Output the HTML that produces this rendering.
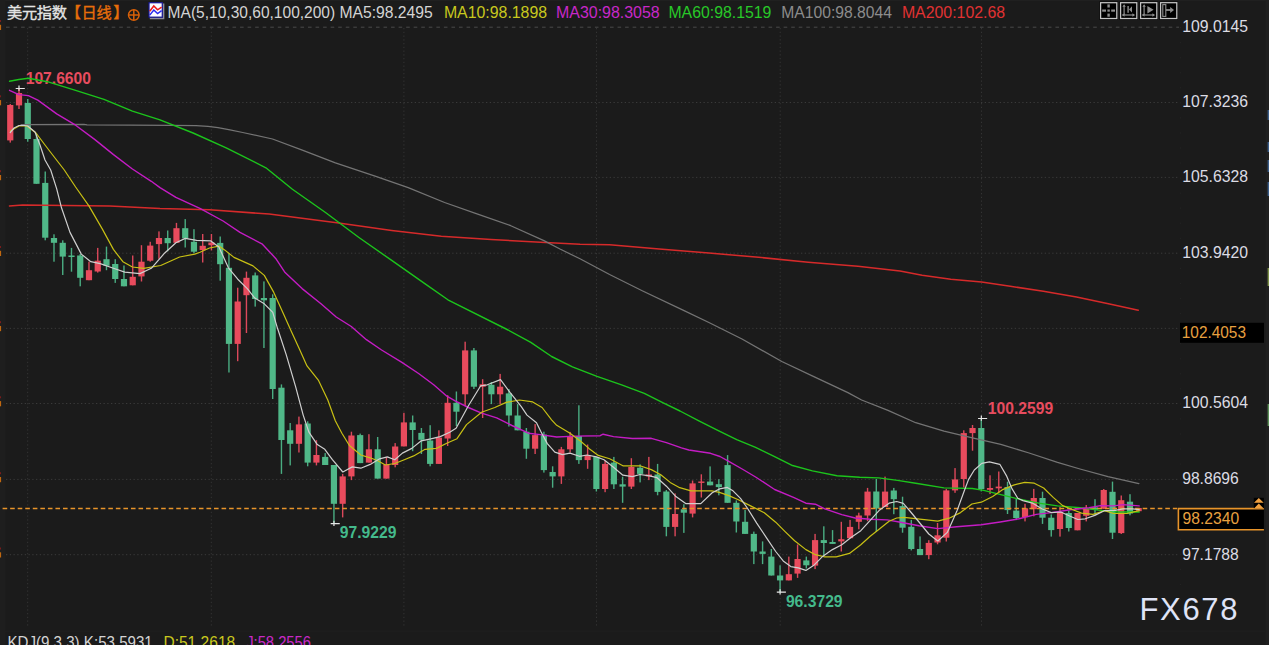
<!DOCTYPE html>
<html><head><meta charset="utf-8"><title>USD Index</title>
<style>html,body{margin:0;padding:0;background:#1b1b1b;}body{width:1269px;height:645px;overflow:hidden;font-family:"Liberation Sans",sans-serif;}svg{display:block;}text{font-family:"Liberation Sans",sans-serif;}text.cjk{font-family:"Liberation Sans","Noto Sans CJK SC",sans-serif;}</style>
</head><body>
<svg width="1269" height="645" viewBox="0 0 1269 645">
<rect x="0" y="0" width="1269" height="645" fill="#1b1b1b"/>
<rect x="0" y="0" width="1269" height="1" fill="#202020"/>
<rect x="0" y="0" width="5.5" height="645" fill="#1e1e1e"/>
<rect x="1265.5" y="0" width="3.5" height="645" fill="#1f1f1f"/>
<rect x="0" y="630.6" width="1265" height="1" fill="#202020"/>
<g stroke="#3a3a3a" stroke-width="1" fill="none">
<path d="M6 27.2 H1179" stroke="#4a4a4a" stroke-dasharray="3.6 3.95"/>
<path d="M6 102.5 H1178" stroke-dasharray="1.3 2.45"/>
<path d="M6 177.4 H1178" stroke-dasharray="1.3 2.45"/>
<path d="M6 253.2 H1178" stroke-dasharray="1.3 2.45"/>
<path d="M6 328.35 H1178" stroke-dasharray="1.3 2.45"/>
<path d="M6 403.5 H1178" stroke-dasharray="1.3 2.45"/>
<path d="M6 479.4 H1178" stroke-dasharray="1.3 2.45"/>
<path d="M6 554.7 H1178" stroke-dasharray="1.3 2.45"/>
<path d="M27.7 28 V628" stroke="#343434" stroke-dasharray="1.3 2.45"/>
<path d="M211.3 28 V628" stroke="#343434" stroke-dasharray="1.3 2.45"/>
<path d="M403.9 28 V628" stroke="#343434" stroke-dasharray="1.3 2.45"/>
<path d="M596.5 28 V628" stroke="#343434" stroke-dasharray="1.3 2.45"/>
<path d="M780.2 28 V628" stroke="#343434" stroke-dasharray="1.3 2.45"/>
<path d="M981.5 28 V628" stroke="#343434" stroke-dasharray="1.3 2.45"/>
<path d="M1180.5 27 V628" stroke="#232323" stroke-dasharray="1.2 13.85"/>
</g>
<rect x="0" y="24.8" width="1.1" height="5.2" fill="#c06810"/>
<rect x="0" y="20" width="1" height="2" fill="#7a1c1c"/>
<rect x="0" y="100.1" width="1.1" height="5.2" fill="#c06810"/>
<rect x="0" y="95.3" width="1" height="2" fill="#7a1c1c"/>
<rect x="0" y="175" width="1.1" height="5.2" fill="#c06810"/>
<rect x="0" y="170.2" width="1" height="2" fill="#7a1c1c"/>
<rect x="0" y="250.8" width="1.1" height="5.2" fill="#c06810"/>
<rect x="0" y="246" width="1" height="2" fill="#7a1c1c"/>
<rect x="0" y="325.95" width="1.1" height="5.2" fill="#c06810"/>
<rect x="0" y="321.15" width="1" height="2" fill="#7a1c1c"/>
<rect x="0" y="401.1" width="1.1" height="5.2" fill="#c06810"/>
<rect x="0" y="396.3" width="1" height="2" fill="#7a1c1c"/>
<rect x="0" y="477" width="1.1" height="5.2" fill="#c06810"/>
<rect x="0" y="472.2" width="1" height="2" fill="#7a1c1c"/>
<rect x="0" y="552.3" width="1.1" height="5.2" fill="#c06810"/>
<rect x="0" y="547.5" width="1" height="2" fill="#7a1c1c"/>
<g>
<rect x="9.55" y="104" width="1.4" height="38.6" fill="#dc485b"/>
<rect x="7.15" y="105" width="6.2" height="35.4" fill="#e84b5d"/>
<rect x="18.3" y="89" width="1.4" height="20" fill="#dc485b"/>
<rect x="15.9" y="93" width="6.2" height="12.4" fill="#e84b5d"/>
<rect x="27.05" y="99" width="1.4" height="42.7" fill="#4aad82"/>
<rect x="24.65" y="103" width="6.2" height="36" fill="#50b888"/>
<rect x="35.79" y="133.7" width="1.4" height="50.1" fill="#4aad82"/>
<rect x="33.39" y="139" width="6.2" height="44.8" fill="#50b888"/>
<rect x="44.54" y="171.5" width="1.4" height="68.8" fill="#4aad82"/>
<rect x="42.14" y="182.9" width="6.2" height="54.8" fill="#50b888"/>
<rect x="53.29" y="234.3" width="1.4" height="27.4" fill="#4aad82"/>
<rect x="50.89" y="238" width="6.2" height="4.8" fill="#50b888"/>
<rect x="62.04" y="240.3" width="1.4" height="34.7" fill="#4aad82"/>
<rect x="59.64" y="242.8" width="6.2" height="13.8" fill="#50b888"/>
<rect x="70.79" y="247.9" width="1.4" height="23.8" fill="#4aad82"/>
<rect x="68.39" y="255.5" width="6.2" height="1.5" fill="#50b888"/>
<rect x="79.53" y="254" width="1.4" height="32.3" fill="#4aad82"/>
<rect x="77.13" y="255.5" width="6.2" height="22.3" fill="#50b888"/>
<rect x="88.28" y="261.7" width="1.4" height="18.5" fill="#dc485b"/>
<rect x="85.88" y="270.2" width="6.2" height="10" fill="#e84b5d"/>
<rect x="97.03" y="247.9" width="1.4" height="24.7" fill="#dc485b"/>
<rect x="94.63" y="260.7" width="6.2" height="10.8" fill="#e84b5d"/>
<rect x="105.78" y="246.6" width="1.4" height="23.6" fill="#4aad82"/>
<rect x="103.38" y="259.2" width="6.2" height="6.6" fill="#50b888"/>
<rect x="114.53" y="259.2" width="1.4" height="23.7" fill="#4aad82"/>
<rect x="112.13" y="264" width="6.2" height="15" fill="#50b888"/>
<rect x="123.27" y="265.5" width="1.4" height="20.8" fill="#4aad82"/>
<rect x="120.87" y="279" width="6.2" height="7.3" fill="#50b888"/>
<rect x="132.02" y="255.5" width="1.4" height="29.8" fill="#dc485b"/>
<rect x="129.62" y="276.8" width="6.2" height="8.5" fill="#e84b5d"/>
<rect x="140.77" y="245.2" width="1.4" height="36.3" fill="#dc485b"/>
<rect x="138.37" y="261.7" width="6.2" height="14.7" fill="#e84b5d"/>
<rect x="149.52" y="241.8" width="1.4" height="19.9" fill="#dc485b"/>
<rect x="147.12" y="245.6" width="6.2" height="15.1" fill="#e84b5d"/>
<rect x="158.27" y="231.4" width="1.4" height="27.4" fill="#dc485b"/>
<rect x="155.87" y="238" width="6.2" height="6.1" fill="#e84b5d"/>
<rect x="167.01" y="230.5" width="1.4" height="20.8" fill="#4aad82"/>
<rect x="164.61" y="238" width="6.2" height="5.2" fill="#50b888"/>
<rect x="175.76" y="222.9" width="1.4" height="19.9" fill="#dc485b"/>
<rect x="173.36" y="228.2" width="6.2" height="14.6" fill="#e84b5d"/>
<rect x="184.51" y="219.1" width="1.4" height="28.4" fill="#4aad82"/>
<rect x="182.11" y="228.2" width="6.2" height="10.2" fill="#50b888"/>
<rect x="193.26" y="229.2" width="1.4" height="24" fill="#4aad82"/>
<rect x="190.86" y="241.8" width="6.2" height="9.9" fill="#50b888"/>
<rect x="202.01" y="234" width="1.4" height="28.5" fill="#dc485b"/>
<rect x="199.61" y="245.8" width="6.2" height="4.3" fill="#e84b5d"/>
<rect x="210.75" y="234" width="1.4" height="16.4" fill="#dc485b"/>
<rect x="208.35" y="242.5" width="6.2" height="2.7" fill="#e84b5d"/>
<rect x="219.5" y="236.5" width="1.4" height="44.2" fill="#4aad82"/>
<rect x="217.1" y="242.9" width="6.2" height="21.3" fill="#50b888"/>
<rect x="228.25" y="253.4" width="1.4" height="119.1" fill="#4aad82"/>
<rect x="225.85" y="267.8" width="6.2" height="76.1" fill="#50b888"/>
<rect x="237" y="287.7" width="1.4" height="73.5" fill="#dc485b"/>
<rect x="234.6" y="301.5" width="6.2" height="42.4" fill="#e84b5d"/>
<rect x="245.75" y="271.6" width="1.4" height="61.4" fill="#dc485b"/>
<rect x="243.35" y="277.8" width="6.2" height="17.4" fill="#e84b5d"/>
<rect x="254.49" y="272.5" width="1.4" height="34.1" fill="#4aad82"/>
<rect x="252.09" y="275.4" width="6.2" height="23.6" fill="#50b888"/>
<rect x="263.24" y="281.4" width="1.4" height="66.6" fill="#4aad82"/>
<rect x="260.84" y="298" width="6.2" height="2.3" fill="#50b888"/>
<rect x="271.99" y="294.3" width="1.4" height="104.7" fill="#4aad82"/>
<rect x="269.59" y="298" width="6.2" height="91" fill="#50b888"/>
<rect x="280.74" y="384.4" width="1.4" height="89.5" fill="#4aad82"/>
<rect x="278.34" y="387.7" width="6.2" height="52.3" fill="#50b888"/>
<rect x="289.49" y="423" width="1.4" height="42.4" fill="#4aad82"/>
<rect x="287.09" y="430.3" width="6.2" height="13.5" fill="#50b888"/>
<rect x="298.23" y="416.6" width="1.4" height="35.9" fill="#dc485b"/>
<rect x="295.83" y="424.4" width="6.2" height="19.4" fill="#e84b5d"/>
<rect x="306.98" y="421.3" width="1.4" height="45" fill="#4aad82"/>
<rect x="304.58" y="423.5" width="6.2" height="39.1" fill="#50b888"/>
<rect x="315.73" y="440.2" width="1.4" height="25.2" fill="#dc485b"/>
<rect x="313.33" y="455" width="6.2" height="7.6" fill="#e84b5d"/>
<rect x="324.48" y="453.1" width="1.4" height="11.9" fill="#4aad82"/>
<rect x="322.08" y="456.9" width="6.2" height="8.1" fill="#50b888"/>
<rect x="333.23" y="465" width="1.4" height="58.1" fill="#4aad82"/>
<rect x="330.83" y="465" width="6.2" height="38.8" fill="#50b888"/>
<rect x="341.97" y="473.9" width="1.4" height="43.5" fill="#dc485b"/>
<rect x="339.57" y="476.4" width="6.2" height="27.4" fill="#e84b5d"/>
<rect x="350.72" y="431.7" width="1.4" height="48.4" fill="#dc485b"/>
<rect x="348.32" y="435.5" width="6.2" height="40.9" fill="#e84b5d"/>
<rect x="359.47" y="433.6" width="1.4" height="29.5" fill="#4aad82"/>
<rect x="357.07" y="435.1" width="6.2" height="28" fill="#50b888"/>
<rect x="368.22" y="434.2" width="1.4" height="28.4" fill="#dc485b"/>
<rect x="365.82" y="449.3" width="6.2" height="13.3" fill="#e84b5d"/>
<rect x="376.97" y="437" width="1.4" height="41.6" fill="#4aad82"/>
<rect x="374.57" y="449.3" width="6.2" height="29.3" fill="#50b888"/>
<rect x="385.71" y="456.9" width="1.4" height="21.7" fill="#dc485b"/>
<rect x="383.31" y="464.4" width="6.2" height="14.2" fill="#e84b5d"/>
<rect x="394.46" y="443.1" width="1.4" height="24.2" fill="#dc485b"/>
<rect x="392.06" y="446.5" width="6.2" height="18.5" fill="#e84b5d"/>
<rect x="403.21" y="412.8" width="1.4" height="33.6" fill="#dc485b"/>
<rect x="400.81" y="422.4" width="6.2" height="24" fill="#e84b5d"/>
<rect x="411.96" y="415.5" width="1.4" height="35.7" fill="#4aad82"/>
<rect x="409.56" y="422.4" width="6.2" height="7.6" fill="#50b888"/>
<rect x="420.71" y="428" width="1.4" height="26" fill="#4aad82"/>
<rect x="418.31" y="432.9" width="6.2" height="6.9" fill="#50b888"/>
<rect x="429.45" y="425.2" width="1.4" height="41.1" fill="#4aad82"/>
<rect x="427.05" y="440.5" width="6.2" height="23.4" fill="#50b888"/>
<rect x="438.2" y="430.3" width="1.4" height="33.6" fill="#dc485b"/>
<rect x="435.8" y="437.6" width="6.2" height="26.3" fill="#e84b5d"/>
<rect x="446.95" y="395.2" width="1.4" height="50.8" fill="#dc485b"/>
<rect x="444.55" y="402.8" width="6.2" height="35.7" fill="#e84b5d"/>
<rect x="455.7" y="391.5" width="1.4" height="34.5" fill="#4aad82"/>
<rect x="453.3" y="402.8" width="6.2" height="8.9" fill="#50b888"/>
<rect x="464.45" y="341.7" width="1.4" height="64" fill="#dc485b"/>
<rect x="462.05" y="350.4" width="6.2" height="43.9" fill="#e84b5d"/>
<rect x="473.19" y="348" width="1.4" height="41" fill="#4aad82"/>
<rect x="470.79" y="350.4" width="6.2" height="36.3" fill="#50b888"/>
<rect x="481.94" y="379.2" width="1.4" height="38.8" fill="#dc485b"/>
<rect x="479.54" y="384.3" width="6.2" height="2.4" fill="#e84b5d"/>
<rect x="490.69" y="382" width="1.4" height="22.1" fill="#4aad82"/>
<rect x="488.29" y="384.8" width="6.2" height="9.5" fill="#50b888"/>
<rect x="499.44" y="373.9" width="1.4" height="30.2" fill="#dc485b"/>
<rect x="497.04" y="386.7" width="6.2" height="7.6" fill="#e84b5d"/>
<rect x="508.19" y="389" width="1.4" height="37.5" fill="#4aad82"/>
<rect x="505.79" y="393.4" width="6.2" height="22.1" fill="#50b888"/>
<rect x="516.93" y="404.1" width="1.4" height="26.2" fill="#4aad82"/>
<rect x="514.53" y="415.5" width="6.2" height="14.8" fill="#50b888"/>
<rect x="525.68" y="428" width="1.4" height="30.8" fill="#4aad82"/>
<rect x="523.28" y="431.7" width="6.2" height="17" fill="#50b888"/>
<rect x="534.43" y="424.1" width="1.4" height="29.9" fill="#dc485b"/>
<rect x="532.03" y="435.1" width="6.2" height="13.6" fill="#e84b5d"/>
<rect x="543.18" y="431.7" width="1.4" height="40.9" fill="#4aad82"/>
<rect x="540.78" y="434.6" width="6.2" height="35.5" fill="#50b888"/>
<rect x="551.93" y="466.3" width="1.4" height="21.4" fill="#4aad82"/>
<rect x="549.53" y="472" width="6.2" height="4.4" fill="#50b888"/>
<rect x="560.67" y="446.9" width="1.4" height="37" fill="#dc485b"/>
<rect x="558.27" y="449.3" width="6.2" height="27.1" fill="#e84b5d"/>
<rect x="569.42" y="431.9" width="1.4" height="20.6" fill="#dc485b"/>
<rect x="567.02" y="436" width="6.2" height="13.3" fill="#e84b5d"/>
<rect x="578.17" y="405.3" width="1.4" height="58.6" fill="#4aad82"/>
<rect x="575.77" y="436" width="6.2" height="24.1" fill="#50b888"/>
<rect x="586.92" y="444.5" width="1.4" height="24.3" fill="#dc485b"/>
<rect x="584.52" y="455" width="6.2" height="5.1" fill="#e84b5d"/>
<rect x="595.67" y="456.9" width="1.4" height="34.6" fill="#4aad82"/>
<rect x="593.27" y="456.9" width="6.2" height="32.1" fill="#50b888"/>
<rect x="604.41" y="460.7" width="1.4" height="31.5" fill="#dc485b"/>
<rect x="602.01" y="463.9" width="6.2" height="25.1" fill="#e84b5d"/>
<rect x="613.16" y="456.9" width="1.4" height="32.1" fill="#4aad82"/>
<rect x="610.76" y="462.6" width="6.2" height="21.7" fill="#50b888"/>
<rect x="621.91" y="476.7" width="1.4" height="26.1" fill="#4aad82"/>
<rect x="619.51" y="484.3" width="6.2" height="2.3" fill="#50b888"/>
<rect x="630.66" y="458.2" width="1.4" height="30.8" fill="#dc485b"/>
<rect x="628.26" y="466.9" width="6.2" height="19.7" fill="#e84b5d"/>
<rect x="639.41" y="464.4" width="1.4" height="18" fill="#4aad82"/>
<rect x="637.01" y="467.7" width="6.2" height="6.2" fill="#50b888"/>
<rect x="648.15" y="456.9" width="1.4" height="23.2" fill="#dc485b"/>
<rect x="645.75" y="474.5" width="6.2" height="1.9" fill="#e84b5d"/>
<rect x="656.9" y="463.9" width="1.4" height="31.4" fill="#4aad82"/>
<rect x="654.5" y="474.5" width="6.2" height="17.4" fill="#50b888"/>
<rect x="665.65" y="490" width="1.4" height="46.3" fill="#4aad82"/>
<rect x="663.25" y="491.5" width="6.2" height="35.4" fill="#50b888"/>
<rect x="674.4" y="493.4" width="1.4" height="42.9" fill="#dc485b"/>
<rect x="672" y="514" width="6.2" height="12.9" fill="#e84b5d"/>
<rect x="683.15" y="504.2" width="1.4" height="28.7" fill="#4aad82"/>
<rect x="680.75" y="509.3" width="6.2" height="3.4" fill="#50b888"/>
<rect x="691.89" y="480.5" width="1.4" height="36.9" fill="#dc485b"/>
<rect x="689.49" y="483.4" width="6.2" height="30.2" fill="#e84b5d"/>
<rect x="700.64" y="474.3" width="1.4" height="23.2" fill="#dc485b"/>
<rect x="698.24" y="481.5" width="6.2" height="1.4" fill="#e84b5d"/>
<rect x="709.39" y="466.4" width="1.4" height="18.9" fill="#4aad82"/>
<rect x="706.99" y="481.6" width="6.2" height="3.7" fill="#50b888"/>
<rect x="718.14" y="479.2" width="1.4" height="16.1" fill="#4aad82"/>
<rect x="715.74" y="484.2" width="6.2" height="2.9" fill="#50b888"/>
<rect x="726.89" y="455.1" width="1.4" height="47.7" fill="#4aad82"/>
<rect x="724.49" y="465.1" width="6.2" height="37.7" fill="#50b888"/>
<rect x="735.63" y="500.4" width="1.4" height="32.1" fill="#4aad82"/>
<rect x="733.23" y="502.8" width="6.2" height="18.7" fill="#50b888"/>
<rect x="744.38" y="509.9" width="1.4" height="24" fill="#4aad82"/>
<rect x="741.98" y="521.8" width="6.2" height="12.1" fill="#50b888"/>
<rect x="753.13" y="531.6" width="1.4" height="32.5" fill="#4aad82"/>
<rect x="750.73" y="533.9" width="6.2" height="17.6" fill="#50b888"/>
<rect x="761.88" y="541.4" width="1.4" height="22.7" fill="#4aad82"/>
<rect x="759.48" y="551.5" width="6.2" height="2.4" fill="#50b888"/>
<rect x="770.63" y="549" width="1.4" height="26.5" fill="#4aad82"/>
<rect x="768.23" y="556.6" width="6.2" height="18.9" fill="#50b888"/>
<rect x="779.37" y="565.3" width="1.4" height="26.8" fill="#4aad82"/>
<rect x="776.97" y="575.5" width="6.2" height="4.9" fill="#50b888"/>
<rect x="788.12" y="556.6" width="1.4" height="23.8" fill="#dc485b"/>
<rect x="785.72" y="574.2" width="6.2" height="6.2" fill="#e84b5d"/>
<rect x="796.87" y="544.5" width="1.4" height="33.4" fill="#dc485b"/>
<rect x="794.47" y="559" width="6.2" height="14.6" fill="#e84b5d"/>
<rect x="805.62" y="556.6" width="1.4" height="11.9" fill="#4aad82"/>
<rect x="803.22" y="560.4" width="6.2" height="4.9" fill="#50b888"/>
<rect x="814.37" y="533.9" width="1.4" height="35.2" fill="#dc485b"/>
<rect x="811.97" y="540.1" width="6.2" height="25.5" fill="#e84b5d"/>
<rect x="823.11" y="526.3" width="1.4" height="28.9" fill="#4aad82"/>
<rect x="820.71" y="540.1" width="6.2" height="2.9" fill="#50b888"/>
<rect x="831.86" y="530.1" width="1.4" height="13.8" fill="#4aad82"/>
<rect x="829.46" y="542" width="6.2" height="1.9" fill="#50b888"/>
<rect x="840.61" y="521.8" width="1.4" height="29.7" fill="#dc485b"/>
<rect x="838.21" y="539.2" width="6.2" height="2.2" fill="#e84b5d"/>
<rect x="849.36" y="519.9" width="1.4" height="18.3" fill="#dc485b"/>
<rect x="846.96" y="526.9" width="6.2" height="11.3" fill="#e84b5d"/>
<rect x="858.11" y="512.7" width="1.4" height="16.6" fill="#dc485b"/>
<rect x="855.71" y="515.5" width="6.2" height="6.3" fill="#e84b5d"/>
<rect x="866.85" y="487.9" width="1.4" height="33.3" fill="#dc485b"/>
<rect x="864.45" y="491.6" width="6.2" height="23.9" fill="#e84b5d"/>
<rect x="875.6" y="479" width="1.4" height="53" fill="#4aad82"/>
<rect x="873.2" y="491.5" width="6.2" height="17" fill="#50b888"/>
<rect x="884.35" y="476.6" width="1.4" height="30.4" fill="#dc485b"/>
<rect x="881.95" y="491.6" width="6.2" height="15.4" fill="#e84b5d"/>
<rect x="893.1" y="487.9" width="1.4" height="26.3" fill="#4aad82"/>
<rect x="890.7" y="490.5" width="6.2" height="8.7" fill="#50b888"/>
<rect x="901.85" y="496.7" width="1.4" height="36" fill="#4aad82"/>
<rect x="899.45" y="506.1" width="6.2" height="21.6" fill="#50b888"/>
<rect x="910.59" y="519.9" width="1.4" height="30.5" fill="#4aad82"/>
<rect x="908.19" y="526.8" width="6.2" height="22.2" fill="#50b888"/>
<rect x="919.34" y="536.4" width="1.4" height="18.7" fill="#4aad82"/>
<rect x="916.94" y="549" width="6.2" height="6.1" fill="#50b888"/>
<rect x="928.09" y="540.2" width="1.4" height="19" fill="#dc485b"/>
<rect x="925.69" y="542.9" width="6.2" height="12.2" fill="#e84b5d"/>
<rect x="936.84" y="523" width="1.4" height="21.3" fill="#dc485b"/>
<rect x="934.44" y="535.3" width="6.2" height="7.2" fill="#e84b5d"/>
<rect x="945.59" y="488.9" width="1.4" height="52.6" fill="#dc485b"/>
<rect x="943.19" y="490.4" width="6.2" height="47.3" fill="#e84b5d"/>
<rect x="954.33" y="468.1" width="1.4" height="24.7" fill="#dc485b"/>
<rect x="951.93" y="479.4" width="6.2" height="11" fill="#e84b5d"/>
<rect x="963.08" y="430.3" width="1.4" height="57.2" fill="#dc485b"/>
<rect x="960.68" y="433.1" width="6.2" height="45.9" fill="#e84b5d"/>
<rect x="971.83" y="425" width="1.4" height="25.7" fill="#dc485b"/>
<rect x="969.43" y="428" width="6.2" height="5.1" fill="#e84b5d"/>
<rect x="980.58" y="418.9" width="1.4" height="72.5" fill="#4aad82"/>
<rect x="978.18" y="428" width="6.2" height="61.1" fill="#50b888"/>
<rect x="989.33" y="475.3" width="1.4" height="18.8" fill="#dc485b"/>
<rect x="986.93" y="488" width="6.2" height="1.8" fill="#e84b5d"/>
<rect x="998.07" y="471.5" width="1.4" height="21.2" fill="#dc485b"/>
<rect x="995.67" y="486.6" width="6.2" height="1.7" fill="#e84b5d"/>
<rect x="1006.82" y="481.7" width="1.4" height="32.3" fill="#4aad82"/>
<rect x="1004.42" y="487" width="6.2" height="23.1" fill="#50b888"/>
<rect x="1015.57" y="498" width="1.4" height="22.1" fill="#4aad82"/>
<rect x="1013.17" y="510.6" width="6.2" height="7.4" fill="#50b888"/>
<rect x="1024.32" y="503.8" width="1.4" height="17.6" fill="#dc485b"/>
<rect x="1021.92" y="508.3" width="6.2" height="8.8" fill="#e84b5d"/>
<rect x="1033.07" y="488.9" width="1.4" height="27.4" fill="#dc485b"/>
<rect x="1030.67" y="498" width="6.2" height="11.2" fill="#e84b5d"/>
<rect x="1041.81" y="491.7" width="1.4" height="32.2" fill="#4aad82"/>
<rect x="1039.41" y="498" width="6.2" height="19.7" fill="#50b888"/>
<rect x="1050.56" y="514.4" width="1.4" height="22.2" fill="#4aad82"/>
<rect x="1048.16" y="517.7" width="6.2" height="12.4" fill="#50b888"/>
<rect x="1059.31" y="506.9" width="1.4" height="29.7" fill="#dc485b"/>
<rect x="1056.91" y="512" width="6.2" height="17" fill="#e84b5d"/>
<rect x="1068.06" y="510.7" width="1.4" height="20.8" fill="#4aad82"/>
<rect x="1065.66" y="513" width="6.2" height="15" fill="#50b888"/>
<rect x="1076.81" y="513" width="1.4" height="17.3" fill="#dc485b"/>
<rect x="1074.41" y="513" width="6.2" height="17.3" fill="#e84b5d"/>
<rect x="1085.55" y="505" width="1.4" height="16.4" fill="#dc485b"/>
<rect x="1083.15" y="508.5" width="6.2" height="7.3" fill="#e84b5d"/>
<rect x="1094.3" y="499.2" width="1.4" height="16" fill="#4aad82"/>
<rect x="1091.9" y="507.4" width="6.2" height="2.3" fill="#50b888"/>
<rect x="1103.05" y="489" width="1.4" height="19.8" fill="#dc485b"/>
<rect x="1100.65" y="490" width="6.2" height="18.8" fill="#e84b5d"/>
<rect x="1111.8" y="481.6" width="1.4" height="57.4" fill="#4aad82"/>
<rect x="1109.4" y="491.8" width="6.2" height="40.9" fill="#50b888"/>
<rect x="1120.55" y="495.5" width="1.4" height="38.5" fill="#dc485b"/>
<rect x="1118.15" y="500.2" width="6.2" height="32.9" fill="#e84b5d"/>
<rect x="1129.29" y="494.2" width="1.4" height="21.1" fill="#4aad82"/>
<rect x="1126.89" y="501.7" width="6.2" height="11.8" fill="#50b888"/>
<rect x="1138.04" y="508" width="1.4" height="3.2" fill="#dc485b"/>
<rect x="1136.14" y="508" width="5.6" height="3.2" fill="#e84b5d"/>
</g>
<path d="M2.6 508.4 H1177" stroke="#e8942a" stroke-width="1.5" stroke-dasharray="4.6 2.95" fill="none"/>
<text x="25.7" y="84.3" font-size="15.6" fill="#e84c5f" font-weight="bold" textLength="65.3" lengthAdjust="spacingAndGlyphs">107.6600</text>
<text x="339.7" y="537.7" font-size="15.6" fill="#44ba8c" font-weight="bold" textLength="56.7" lengthAdjust="spacingAndGlyphs">97.9229</text>
<text x="785.9" y="607" font-size="15.6" fill="#44ba8c" font-weight="bold" textLength="56.7" lengthAdjust="spacingAndGlyphs">96.3729</text>
<text x="987.8" y="414.3" font-size="15.6" fill="#e84c5f" font-weight="bold" textLength="65.3" lengthAdjust="spacingAndGlyphs">100.2599</text>
<path d="M9.5 205.9 L22.7 205 L109.7 205.9 L160 208.5 L209.6 209.8 L269.2 214.1 L338.7 223 L391.7 230.4 L441.3 236.3 L491 239.6 L540.6 242.2 L580 244.3 L609.6 244.7 L659.3 249 L708.9 253 L758.6 257.3 L808.2 262.2 L857.9 266.2 L900 270.9 L922.1 275.3 L950.8 279.3 L981.6 281.9 L1010.3 286.3 L1043.4 291.2 L1076.5 296.9 L1109.6 304 L1138.3 310.2" fill="none" stroke="#d62a2a" stroke-width="1.55" stroke-linejoin="round" stroke-linecap="round"/>
<path d="M21 124.5 L84 124.3 L87 124.8 L130 125.1 L170.2 125.3 L196 125.6 L208 126.4 L218 127.6 L230 129.8 L242.7 132.5 L272.5 139 L302.3 150.2 L335.4 162.8 L375.1 176.1 L408.2 187.6 L444.6 202.5 L477.7 214.1 L510.8 225.7 L543.9 240.6 L560 249 L580 258.8 L609.6 274.5 L642.7 291 L682.5 309.9 L708.9 322.5 L742 339 L781.8 361.5 L814.9 377.1 L847.9 392.6 L861.6 400 L888 410.4 L915.7 422.7 L944 431.2 L972.4 437.8 L1000.8 444.4 L1029.1 453 L1057.5 462.4 L1080 469 L1108 476.6 L1138.9 483.7" fill="none" stroke="#747474" stroke-width="1.25" stroke-linejoin="round" stroke-linecap="round"/>
<path d="M9.5 81.2 L18.9 79.5 L28.4 78.3 L47.3 81.7 L75.6 90.3 L104 99.3 L132.4 111.1 L160 119.8 L193.1 133 L226.2 147.9 L265.9 167.8 L292.4 189.3 L325.5 212.5 L358.6 237.3 L391.7 260.4 L424.8 283.6 L447.9 299.8 L508.1 330 L530.8 342.3 L551.6 356.5 L572.4 366.9 L597 376.3 L621.6 384.8 L644.3 393.4 L663.2 402.8 L680 411 L698.9 420.8 L717.8 430.3 L736.7 439.7 L755.6 447.3 L774.6 456.7 L791.6 465.2 L812.4 470.9 L837 475.7 L859.7 477.2 L878.6 477.9 L897.5 480.4 L915.7 483.2 L944 487.9 L972.4 488.5 L983.7 490.4 L1000.8 494.6 L1019.7 499.3 L1038.6 503.1 L1057.5 505.9 L1080 507.8 L1098.6 510.1 L1117.5 512 L1139.2 512" fill="none" stroke="#1cc41c" stroke-width="1.4" stroke-linejoin="round" stroke-linecap="round"/>
<path d="M9.5 90.3 L18.9 94.6 L28.4 95.6 L37.8 100.1 L56.7 113.9 L75.6 125.2 L94.6 139.4 L113.5 154.6 L132.4 169 L151.3 181.3 L160 187.6 L175.9 197.4 L200.4 208.7 L223.1 221 L240 232.4 L262.4 244.2 L275.7 258.4 L285.1 272.6 L302.1 288.6 L321 303.8 L336.2 317 L351.3 326.5 L366.4 339.7 L381.6 350 L401.5 362.1 L418.6 373.5 L433.7 384.8 L446.9 396.2 L455.1 400.9 L468.4 407.5 L481.6 413.2 L496.7 417.9 L511.9 425.5 L528.4 433.2 L540.2 434.6 L556.7 437 L575.6 436.1 L600.2 435.7 L603.1 434.2 L613.5 436.6 L632.4 438.5 L651.3 438.3 L666.4 442.7 L681.5 447.8 L688.8 450 L710.5 453.3 L720 456.5 L727.9 460.8 L743 469.5 L755.6 477 L774.6 489.5 L793.5 497.4 L805.9 503.2 L815.4 504.2 L824.8 508.9 L841.8 514.6 L855.1 518 L870.2 519.3 L887.2 519.9 L900.5 522.2 L918.9 525.8 L937.8 528.6 L956.7 526.7 L981.3 524.8 L1000.2 522 L1019.1 518.8 L1036.2 514.4 L1051.3 512.6 L1070.2 509.7 L1089.1 507.8 L1100.5 505.6 L1113.7 505.9 L1123.2 504.6 L1139.2 505.9" fill="none" stroke="#c41cc4" stroke-width="1.4" stroke-linejoin="round" stroke-linecap="round"/>
<path d="M10.25 131 L19 126 L27 126 L36 133 L45 145 L55 158 L64.3 170 L75.6 187 L88.9 205.9 L102.1 228.6 L113.4 249.4 L122.9 261.7 L132.4 267 L143.7 268.3 L160.7 265.5 L179.6 257 L194.8 254.1 L200 252.3 L209.5 248 L218.9 246.1 L224.6 249.9 L234 257.4 L253 265.9 L264.3 275.4 L273.8 292.4 L283.2 313.2 L290.8 330.2 L299.4 348.9 L307 365.9 L318.3 380.1 L327.8 400 L335.3 420.8 L341.9 433.2 L349.4 445.5 L360.8 455 L370.2 457.8 L377.8 460.7 L385.4 465 L394.8 463.5 L404.3 459.7 L413.7 455.9 L425.1 449.3 L436.4 448.4 L447.8 442.7 L457 438.7 L466.5 424.6 L481.6 412.3 L494.8 407.5 L506.2 402.4 L519.4 400 L532.7 401.9 L542.1 407.5 L551.6 419.8 L556.7 425.3 L570 433.2 L581.3 441.7 L588.9 448.4 L598.3 455.4 L609.7 458.8 L622.9 465.8 L640 465.8 L651.3 469.6 L660.8 474.8 L670.2 482.4 L679.7 487.7 L691 490.9 L711.8 490.9 L719.4 492.4 L728.8 495.6 L737.8 499.5 L751.1 506.1 L764.3 512.7 L775.7 522.2 L785.1 531.6 L794.6 540.7 L805.9 549.6 L815.4 554.7 L824.8 556.8 L836.2 556.8 L849.4 553.4 L860.8 544.8 L870.2 536.3 L879.7 528.8 L889.1 521.2 L896.7 518 L904.3 517.4 L917.5 518.9 L937.8 521.1 L949.2 518.2 L960.5 512.6 L971.9 504 L981.3 502.2 L992.7 496.5 L1002.1 489.9 L1013.5 485.1 L1024.8 482.3 L1034.3 483.2 L1043.7 488 L1053.2 497.4 L1062.7 505.6 L1070.2 508.8 L1081.6 513.1 L1092.9 514.4 L1104.3 510.7 L1113.7 513.5 L1126.9 513.5 L1139.2 510.7" fill="none" stroke="#c8c014" stroke-width="1.2" stroke-linejoin="round" stroke-linecap="round"/>
<path d="M10.25 132.5 L14 128 L19 125.5 L24.6 125.5 L27.7 126 L35 132 L40 145 L45 160 L50.7 170 L56.7 188.9 L61.5 207.8 L70 232.4 L81.3 254.1 L90.8 261.7 L100.2 263.6 L113.4 268.3 L124.8 272.1 L139.9 273.6 L151.3 268.3 L164.5 253.2 L175.9 242.8 L185.3 238.4 L196.6 240.3 L210.8 240.9 L218.9 247 L228.4 267.8 L237.8 279.2 L247.3 288.6 L254.8 298.1 L264.3 303.8 L272.8 312.3 L277.5 328.3 L286.2 354.6 L295.6 386.7 L303.2 415.1 L308.9 432.1 L317.3 444.6 L324.8 449.3 L332.4 459.7 L342.8 472 L352.3 466.9 L360.8 468.2 L370.2 464.4 L379.7 458.8 L387.3 456.9 L394.8 459.7 L402.4 453.1 L411.8 448.4 L421.3 440.8 L430.8 438.9 L440.2 436.6 L449.7 432.3 L456.1 428.3 L468.4 405.7 L480.7 385.8 L487.3 384.8 L500.5 379.6 L510 392.4 L521.3 406.6 L527 415.1 L536.5 422.7 L540.7 431.3 L547.3 443.6 L554.8 452.1 L562.4 454.6 L570 453.1 L579.4 456.3 L587 455 L596.5 456.9 L604 459.7 L613.5 467.3 L622.9 475.2 L632.4 476.7 L640 474.5 L649.4 475.8 L657 477.7 L666.4 486.2 L675.9 496.6 L685.7 503.6 L700.8 503.6 L712.2 492.7 L719.7 488.9 L727.3 487.4 L733 490.8 L740.5 498.3 L747.3 508 L756.7 523.1 L766.2 537.3 L775.7 551.5 L783.2 560.9 L790.8 566.6 L798.3 567.9 L805.9 570.4 L813.5 565.6 L822.9 556.2 L832.4 549.6 L841.8 544.8 L851.3 537.3 L860.8 530.7 L870.2 520.3 L879.7 509.9 L889.1 503.2 L896.7 501.5 L903.3 503.4 L909.9 511 L919.4 522.5 L928.8 534 L937.8 541 L947.3 532.4 L956.7 511.6 L964.3 490.8 L968.6 479.4 L974.3 470 L981.8 463.4 L989.4 461.8 L999.8 464.3 L1006.4 475.6 L1012.1 488.9 L1017.8 498.3 L1022.9 500.6 L1032.4 503.1 L1041.8 508.8 L1051.3 512.6 L1060.8 512 L1070.2 516.3 L1077.8 519.5 L1085.3 518.8 L1094.8 515.4 L1104.3 510.7 L1113.7 510.7 L1123.2 508.8 L1132.6 508.8 L1139.2 509.7" fill="none" stroke="#cfcfcf" stroke-width="1.2" stroke-linejoin="round" stroke-linecap="round"/>
<path d="M15.7 88.5 H24.8 M19 85.6 V90.8" stroke="#e6e6e6" stroke-width="1.2" fill="none"/>
<path d="M330.65 523.7 H339.75 M333.95 520.8 V526" stroke="#e6e6e6" stroke-width="1.2" fill="none"/>
<path d="M776.8 592.2 H785.9 M780.1 589.3 V594.5" stroke="#e6e6e6" stroke-width="1.2" fill="none"/>
<path d="M978.05 418.5 H987.15 M981.35 415.6 V420.8" stroke="#e6e6e6" stroke-width="1.2" fill="none"/>
<text x="1182.2" y="32.1" font-size="15.6" fill="#dcdce4" textLength="65.8" lengthAdjust="spacingAndGlyphs">109.0145</text>
<text x="1182.2" y="107.4" font-size="15.6" fill="#dcdce4" textLength="65.8" lengthAdjust="spacingAndGlyphs">107.3236</text>
<text x="1182.2" y="182.3" font-size="15.6" fill="#dcdce4" textLength="65.8" lengthAdjust="spacingAndGlyphs">105.6328</text>
<text x="1182.2" y="258.1" font-size="15.6" fill="#dcdce4" textLength="65.8" lengthAdjust="spacingAndGlyphs">103.9420</text>
<text x="1182.2" y="408.4" font-size="15.6" fill="#dcdce4" textLength="65.8" lengthAdjust="spacingAndGlyphs">100.5604</text>
<text x="1182.2" y="484.3" font-size="15.6" fill="#dcdce4" textLength="56.6" lengthAdjust="spacingAndGlyphs">98.8696</text>
<text x="1182.2" y="559.6" font-size="15.6" fill="#dcdce4" textLength="56.6" lengthAdjust="spacingAndGlyphs">97.1788</text>
<rect x="1180" y="322.8" width="84" height="20" fill="#000"/>
<text x="1181.8" y="338" font-size="15.6" fill="#e8a040" textLength="64.2" lengthAdjust="spacingAndGlyphs">102.4053</text>
<rect x="1178.2" y="508.4" width="85.7" height="21.6" fill="#000"/>
<path d="M1263.9 508.6 H1178.4 V529.8 H1263.9" fill="none" stroke="#e8942a" stroke-width="1.6"/>
<text x="1182.6" y="524" font-size="15.6" fill="#e8a040" textLength="56.6" lengthAdjust="spacingAndGlyphs">98.2340</text>
<rect x="1253.8" y="497.8" width="10.1" height="10.4" fill="#000"/>
<path d="M1254 502.8 L1258.8 497.9 L1263.7 502.8 Z M1254 508.6 L1258.8 503.6 L1263.7 508.6 Z" fill="#f0a040"/>
<rect x="1267.6" y="268" width="1.4" height="18" fill="#7c9048"/>
<rect x="1267.6" y="404" width="1.4" height="22" fill="#5c9058"/>
<rect x="1267.6" y="110" width="1.4" height="10" fill="#3a5c88"/>
<rect x="1267.6" y="142" width="1.4" height="10" fill="#3a5c88"/>
<rect x="1267.6" y="160" width="1.4" height="12" fill="#3a5c88"/>
<rect x="1267.6" y="182" width="1.4" height="14" fill="#3a5c88"/>
<text x="167.6" y="18" font-size="15.6" fill="#d4d4d4" textLength="167.6" lengthAdjust="spacingAndGlyphs">MA(5,10,30,60,100,200)</text>
<text x="339.4" y="18" font-size="15.6" fill="#d4d4d4" textLength="93.4" lengthAdjust="spacingAndGlyphs">MA5:98.2495</text>
<text x="443.9" y="18" font-size="15.6" fill="#c8c81e" textLength="103.2" lengthAdjust="spacingAndGlyphs">MA10:98.1898</text>
<text x="556.1" y="18" font-size="15.6" fill="#c828c8" textLength="103.6" lengthAdjust="spacingAndGlyphs">MA30:98.3058</text>
<text x="668.4" y="18" font-size="15.6" fill="#28c828" textLength="103" lengthAdjust="spacingAndGlyphs">MA60:98.1519</text>
<text x="781.2" y="18" font-size="15.6" fill="#8c8c8c" textLength="110.8" lengthAdjust="spacingAndGlyphs">MA100:98.8044</text>
<text x="901.9" y="18" font-size="15.6" fill="#e03232" textLength="103.2" lengthAdjust="spacingAndGlyphs">MA200:102.68</text>
<text class="cjk" x="6.9 21.88 36.86 51.84" y="17.9" font-size="15.2" fill="#e4e4e4" stroke="#e4e4e4" stroke-width="0.35">美元指数</text>
<text class="cjk" x="65.7 81.6 96.58 113.3" y="17.9" font-size="15.2" fill="#e86e0a" stroke="#e86e0a" stroke-width="0.35">【日线】</text>
<g stroke="#d86008" stroke-width="1.5" fill="none"><circle cx="133.8" cy="15" r="5.3"/><path d="M128.5 15 H139.1 M133.8 9.7 V20.3"/></g>
<path d="M163.6 3.6 V18.4 H149.8" stroke="#8a8a98" stroke-width="1.5" fill="none"/>
<rect x="149.05" y="2.75" width="13.2" height="14.4" fill="#fcfcff" stroke="#15159a" stroke-width="1.15"/>
<path d="M149.7 11.3 L153.8 6 L157.6 9.8 L161.6 7.2" stroke="#f01818" stroke-width="1.5" fill="none"/>
<path d="M149.7 15.1 L153.8 10 L157.6 13.5 L161.6 10.7" stroke="#2828f0" stroke-width="1.5" fill="none"/>
<rect x="1099.2" y="1.4" width="18.8" height="18.6" fill="#0c0c0c"/>
<rect x="1100.6" y="2.7" width="16.2" height="15.8" fill="#000" stroke="#c4c4c4" stroke-width="1.25"/>
<rect x="1119.2" y="1.4" width="18.8" height="18.6" fill="#0c0c0c"/>
<rect x="1120.6" y="2.7" width="16.2" height="15.8" fill="#000" stroke="#c4c4c4" stroke-width="1.25"/>
<rect x="1139.2" y="1.4" width="18.8" height="18.6" fill="#0c0c0c"/>
<rect x="1140.6" y="2.7" width="16.2" height="15.8" fill="#000" stroke="#c4c4c4" stroke-width="1.25"/>
<rect x="1159.2" y="1.4" width="18.8" height="18.6" fill="#0c0c0c"/>
<rect x="1160.6" y="2.7" width="16.2" height="15.8" fill="#000" stroke="#c4c4c4" stroke-width="1.25"/>
<g fill="#8e8e8e">
<rect x="1107.4" y="4.4" width="2.4" height="3.1"/>
<rect x="1107.4" y="9.5" width="2.4" height="2.2"/>
<rect x="1107.4" y="13.6" width="2.4" height="3.1"/>
<rect x="1102.2" y="9.5" width="3.8" height="2.2"/>
<rect x="1111.2" y="9.5" width="3.8" height="2.2"/>
</g>
<g stroke="#8e8e8e" stroke-width="1.2" fill="#8e8e8e">
<path d="M1124.1 5.4 V15"/>
<path d="M1122.6 15 H1134.2"/>
<path d="M1124.1 4.2 l1.7 2.6 h-3.4 z" stroke="none"/>
<path d="M1121.9 15 l2.6 -1.7 v3.4 z M1135 15 l-2.6 -1.7 v3.4 z" stroke="none"/>
</g>
<g stroke="#8e8e8e" stroke-width="1.2" fill="#8e8e8e">
<path d="M1144.1 5.4 V15"/>
<path d="M1142.6 15 H1154.2"/>
<path d="M1144.1 4.2 l1.7 2.6 h-3.4 z" stroke="none"/>
<path d="M1141.9 15 l2.6 -1.7 v3.4 z M1155 15 l-2.6 -1.7 v3.4 z" stroke="none"/>
</g>
<rect x="1127.4" y="6" width="1.4" height="6.8" fill="#8e8e8e"/>
<path d="M1129 9.4 L1132 6.2 V12.6 Z" fill="#8e8e8e"/>
<path d="M1147.4 6 L1153.6 9.8 L1147.4 13.5 Z" fill="#8e8e8e"/>
<rect x="1162.8" y="4.6" width="3" height="11.8" fill="none" stroke="#8e8e8e" stroke-width="1.1"/>
<path d="M1166 10 H1171" stroke="#8e8e8e" stroke-width="1.8" fill="none"/>
<path d="M1170.2 6.9 L1174 10 L1170.2 13.1 Z" fill="#8e8e8e"/>
<text x="7.4" y="648" font-size="15.6" fill="#d4d4d4" textLength="145.4" lengthAdjust="spacingAndGlyphs">KDJ(9,3,3) K:53.5931</text>
<text x="163.4" y="648" font-size="15.6" fill="#c8c81e" textLength="71.8" lengthAdjust="spacingAndGlyphs">D:51.2618</text>
<text x="246.2" y="648" font-size="15.6" fill="#c828c8" textLength="64.8" lengthAdjust="spacingAndGlyphs">J:58.2556</text>
<text x="1139.4" y="620.2" font-size="31" fill="#dfe3f6" letter-spacing="1.7">FX678</text>
</svg></body></html>
